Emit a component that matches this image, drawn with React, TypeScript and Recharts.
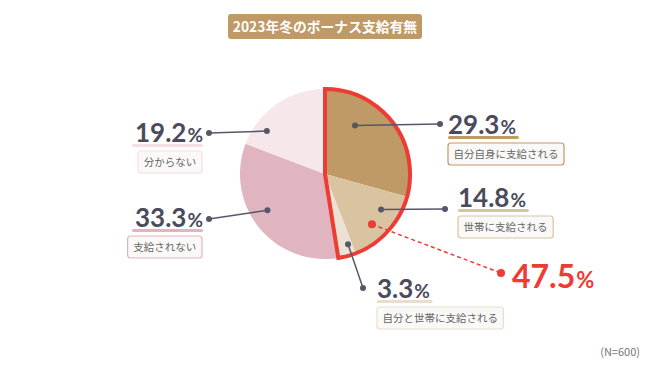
import React from 'react';
import { PieChart, Pie, Cell } from 'recharts';

// 2023年冬のボーナス支給有無 (N=600)
const categories = ['自分自身に支給される', '世帯に支給される', '自分と世帯に支給される', '支給されない', '分からない'];
const shares = [29.3, 14.8, 3.3, 33.3, 19.2];
const highlightShare = 47.5;
const highlightRest = 52.5;

const sliceColors = ['#BF9966', '#D9C3A1', '#ECE2D4', '#E0B5BF', '#F5E7EA'];
const lineColors = ['#BF9966', '#D9C3A1', '#E9DECE', '#E0B5BF', '#F5DEE4'];
const RED = '#EE3B33';
const INK = '#4B4B5C';
const DOT = '#55566A';

// label placement: inner dot as angle offset / radius fraction, outer dot and number position in px
const labelLayout = [
  { da: 21, rf: 0.67, dot: [440, 124], tx: 448, ty: 134, anchor: 'start' },
  { da: 10, rf: 0.78, dot: [445, 209], tx: 458, ty: 207, anchor: 'start' },
  { da: 3, rf: 0.87, dot: [363, 288], tx: 377, ty: 298, anchor: 'start' },
  { da: -7, rf: 0.8, dot: [209, 219], tx: 203, ty: 227, anchor: 'end' },
  { da: 19, rf: 0.85, dot: [209, 133], tx: 203, ty: 142, anchor: 'end' },
];
const highlightLayout = { da: -51.5, rf: 0.81, dot: [501, 273], tx: 512, ty: 288 };

const RAD = Math.PI / 180;
const polar = (cx: number, cy: number, r: number, a: number) => [
  cx + r * Math.cos(-a * RAD),
  cy + r * Math.sin(-a * RAD),
];

const NUM_FONT = 'Lato, "Noto Sans", sans-serif';
const JP_FONT = '"Noto Sans CJK JP", "Noto Sans", sans-serif';

const pieData = categories.map((name, i) => ({ name, value: shares[i] }));
const highlightData = [{ name: 'highlight', value: highlightShare }, { name: 'rest', value: highlightRest }];

const numberWidth = (s: string) => s.replace('.', '').length * 15.3 + 7 + 18;

const renderLabel = (props: any) => {
  const { cx, cy, midAngle, outerRadius, index } = props;
  const l = labelLayout[index];
  const [ix, iy] = polar(cx, cy, outerRadius * l.rf, midAngle + l.da);
  const num = shares[index].toFixed(1);
  const w = numberWidth(num);
  const x0 = l.anchor === 'end' ? l.tx - w : l.tx;
  const text = categories[index];
  const boxW = text.length * 10.4 + 12;
  const bx = l.anchor === 'end' ? l.tx - 1 - boxW : l.tx;
  const by = l.ty + 9;
  return (
    <g key={`lbl-${index}`}>
      <line x1={ix} y1={iy} x2={l.dot[0]} y2={l.dot[1]} stroke={DOT} strokeWidth={1.5} />
      <circle cx={ix} cy={iy} r={3} fill={DOT} />
      <circle cx={l.dot[0]} cy={l.dot[1]} r={3} fill={DOT} />
      <text x={l.tx} y={l.ty} textAnchor={l.anchor} fill={INK} fontFamily={NUM_FONT} fontWeight={700}>
        <tspan fontSize={26}>{num}</tspan>
        <tspan fontSize={19} dx={1}>%</tspan>
      </text>
      <rect x={x0} y={l.ty + 2} width={w} height={3} rx={1.5} fill={lineColors[index]} />
      <rect x={bx} y={by} width={boxW} height={22} rx={3} fill="#FAF9F8" stroke={lineColors[index]} strokeWidth={1.2} />
      <text x={bx + boxW / 2} y={by + 15} textAnchor="middle" fontSize={10.5} fill="#666" fontFamily={JP_FONT}>
        {text}
      </text>
    </g>
  );
};

const renderHighlight = (props: any) => {
  const { cx, cy, midAngle, outerRadius, index } = props;
  if (index !== 0) return <g key="hl-empty" />;
  const l = highlightLayout;
  const [ix, iy] = polar(cx, cy, outerRadius * l.rf, midAngle + l.da);
  return (
    <g key="hl">
      <line x1={ix} y1={iy} x2={l.dot[0]} y2={l.dot[1]} stroke={RED} strokeWidth={1.5} strokeDasharray="4 3" />
      <circle cx={ix} cy={iy} r={4} fill={RED} />
      <circle cx={l.dot[0]} cy={l.dot[1]} r={4} fill={RED} />
      <text x={l.tx} y={l.ty} fill={RED} fontFamily={NUM_FONT} fontWeight={700}>
        <tspan fontSize={32}>{highlightShare.toFixed(1)}</tspan>
        <tspan fontSize={22} dx={1}>%</tspan>
      </text>
    </g>
  );
};

const CX = 325;
const CY = 174;
const R = 85;

export default function App() {
  return (
    <div style={{ position: 'absolute', left: 0, top: 0, width: 650, height: 366, background: '#fff' }}>
      <PieChart width={650} height={366} margin={{ top: 0, right: 0, bottom: 0, left: 0 }}>
        <Pie
          data={pieData}
          dataKey="value"
          cx={CX}
          cy={CY}
          outerRadius={R}
          startAngle={90}
          endAngle={-270}
          stroke="none"
          isAnimationActive={false}
          labelLine={false}
        >
          {pieData.map((d, i) => (
            <Cell key={d.name} fill={sliceColors[i]} />
          ))}
        </Pie>
        <Pie
          data={highlightData}
          dataKey="value"
          cx={CX}
          cy={CY}
          outerRadius={R}
          startAngle={90}
          endAngle={-270}
          isAnimationActive={false}
          labelLine={false}
          label={renderHighlight}
        >
          <Cell fill="none" stroke={RED} strokeWidth={4} strokeLinejoin="miter" />
          <Cell fill="none" stroke="none" />
        </Pie>
        <Pie
          data={pieData}
          dataKey="value"
          cx={CX}
          cy={CY}
          outerRadius={R}
          startAngle={90}
          endAngle={-270}
          fill="none"
          stroke="none"
          isAnimationActive={false}
          labelLine={false}
          label={renderLabel}
        >
          {pieData.map((d) => (
            <Cell key={d.name} fill="none" stroke="none" />
          ))}
        </Pie>
        <g>
          <rect x={228} y={14} width={194} height={25} rx={3} fill="#BF9966" />
          <text x={325} y={31.5} textAnchor="middle" fill="#fff" fontSize={13.8} fontWeight={700} fontFamily={JP_FONT}>
            2023年冬のボーナス支給有無
          </text>
          <text x={640} y={356} textAnchor="end" fill="#777" fontSize={11} fontFamily={JP_FONT}>
            (N=600)
          </text>
        </g>
      </PieChart>
    </div>
  );
}
